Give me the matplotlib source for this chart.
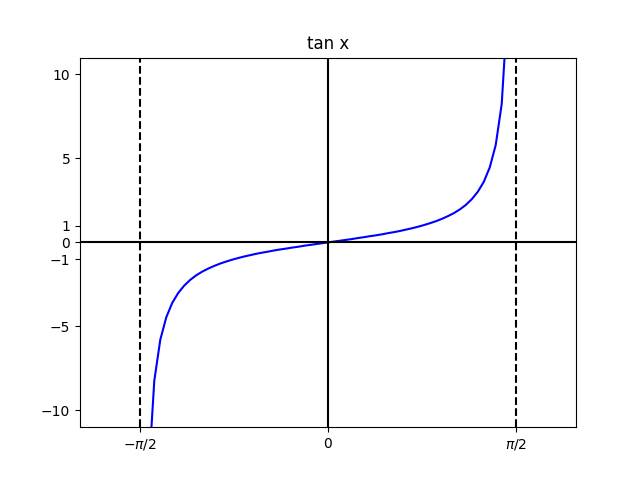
import numpy as np
import matplotlib
matplotlib.use("Agg")
import matplotlib.pyplot as plt

# points (x in radians, y = tan x)
x_vals = [-1.50, -1.45, -1.40, -1.35, -1.30, -1.25, -1.20, -1.15, -1.10, -1.05,
          -1.00, -0.95, -0.90, -0.85, -0.80, -0.75, -0.70, -0.65, -0.60, -0.55,
          -0.50, -0.45, -0.40, -0.35, -0.30, -0.25, -0.20, -0.15, -0.10, -0.05,
          0.00, 0.05, 0.10, 0.15, 0.20, 0.25, 0.30, 0.35, 0.40, 0.45,
          0.50, 0.55, 0.60, 0.65, 0.70, 0.75, 0.80, 0.85, 0.90, 0.95,
          1.00, 1.05, 1.10, 1.15, 1.20, 1.25, 1.30, 1.35, 1.40, 1.45, 1.50]
y_vals = [-14.10, -8.24, -5.80, -4.46, -3.60, -3.01, -2.57, -2.23, -1.96, -1.74,
          -1.56, -1.40, -1.26, -1.14, -1.03, -0.93, -0.84, -0.76, -0.68, -0.61,
          -0.55, -0.48, -0.42, -0.37, -0.31, -0.26, -0.20, -0.15, -0.10, -0.05,
          0.00, 0.05, 0.10, 0.15, 0.20, 0.26, 0.31, 0.37, 0.42, 0.48,
          0.55, 0.61, 0.68, 0.76, 0.84, 0.93, 1.03, 1.14, 1.26, 1.40,
          1.56, 1.74, 1.96, 2.23, 2.57, 3.01, 3.60, 4.46, 5.80, 8.24, 14.10]

xtick_pos = [-np.pi / 2, 0, np.pi / 2]
xtick_labels = [r'$-\pi/2$', '0', r'$\pi/2$']
ytick_pos = [-10, -5, -1, 0, 1, 5, 10]

fig, ax = plt.subplots(figsize=(6.4, 4.8), dpi=100)
ax.plot(x_vals, y_vals, color='b')
ax.axhline(0, color='k')
ax.axvline(0, color='k')
ax.axvline(-np.pi / 2, color='k', linestyle='--')
ax.axvline(np.pi / 2, color='k', linestyle='--')

ax.set_xlim(-2.07, 2.07)
ax.set_ylim(-11, 11)
ax.set_xticks(xtick_pos)
ax.set_xticklabels(xtick_labels)
ax.set_yticks(ytick_pos)
ax.set_title('tan x')

plt.savefig('out.png')
